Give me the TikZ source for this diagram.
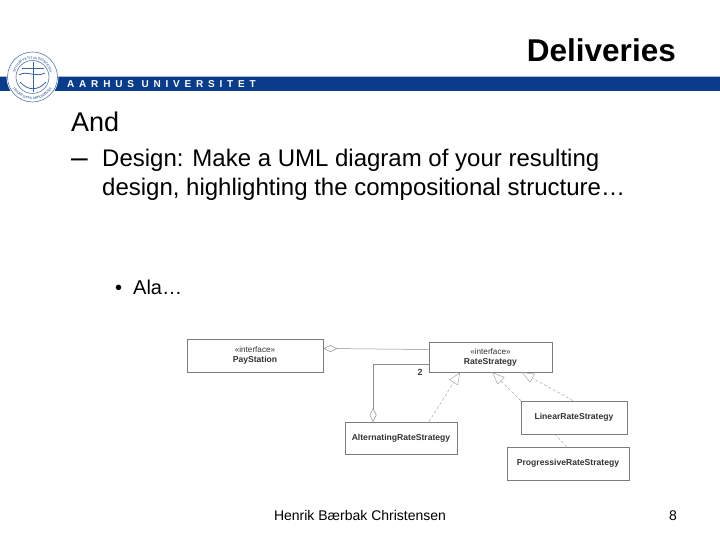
\documentclass[tikz,border=0pt]{standalone}
\usepackage{fontspec}
\setmainfont{Liberation Sans}
\definecolor{aublue}{RGB}{10,60,140}
\definecolor{uiline}{RGB}{125,125,125}
\usetikzlibrary{arrows.meta}
\usetikzlibrary{decorations.text}

\tikzset{
	umlbox/.style={draw=uiline,fill=white,line width=.8pt,inner sep=0pt,align=center,font=\fontsize{8.6}{10}\selectfont,text=black!80},
	aggr/.style={draw=black!45,line width=.5pt,{Diamond[open,fill=white,length=14pt,width=7pt]}-},
	realize/.style={draw=black!40,line width=.4pt,dash pattern=on 3pt off 2pt,-{Triangle[open,fill=white,length=12pt,width=10pt]}},
	sealtext/.style={decorate,decoration={text along path,text align=center,text={|\fontsize{3.4}{4}\selectfont\color{aublue}|#1}}},
}

\begin{document}
\begin{tikzpicture}[x=1pt,y=1pt]
	\useasboundingbox (0,0) rectangle (720,540);

	% header
	\node[anchor=east,inner sep=0pt,font=\fontsize{31.5}{34}\selectfont\bfseries] (title) at (676,490) {Deliveries};
	\fill[aublue!35] (0,464) rectangle (720,463);
	\fill[aublue] (0,463) rectangle (720,449);
	\node[anchor=west,inner sep=0pt,text=white,font=\fontsize{10}{12}\selectfont\bfseries\addfontfeature{LetterSpace=48}] (au) at (67,456) {AARHUS UNIVERSITET};

	% seal
	\fill[white] (32.5,463) circle (26);
	\draw[aublue!70,line width=.6pt] (32.5,463) circle (25) (32.5,463) circle (16.5);
	\path[sealtext={SOLIUM VETIT IN DIOECESIS}] ([shift={(190:18)}]32.5,463) arc (190:-10:18);
	\path[sealtext={UNIVERSITAS ARHUSIENSIS}] ([shift={(200:22.5)}]32.5,463) arc (200:340:22.5);
	\draw[aublue!80,line width=1pt] (33,478) -- (33,448) (22,471) -- (44,471);
	\draw[aublue!80,line width=.8pt] (20,458) .. controls (28,449) and (38,449) .. (46,458);
	\draw[aublue!80,line width=.8pt] (19,465) .. controls (27,470) and (36,462) .. (45,467);

	% text
	\node[anchor=base west,inner sep=0pt,font=\fontsize{27}{30}\selectfont] (and) at (71,408) {And};
	\node[anchor=base west,inner sep=0pt,font=\fontsize{30}{30}\selectfont] (dash) at (71,372) {–};
	\node[anchor=north west,align=left,inner sep=0pt,font=\fontsize{24}{29}\selectfont] (design) at (102,391) {Design: Make a UML diagram of your resulting\\design, highlighting the compositional structure…};
	\node[anchor=base west,font=\fontsize{20}{22}\selectfont,inner sep=0pt] (bullet) at (115,245) {•};
	\node[anchor=base west,font=\fontsize{20}{22}\selectfont,inner sep=0pt] (ala) at (133,245) {Ala…};

	% uml
	\node[umlbox,minimum width=136pt,minimum height=33pt] (pay) at (255,184.5) {\scalebox{.95}{«interface»}\\\textbf{PayStation}};
	\node[umlbox,minimum width=123pt,minimum height=30pt] (rate) at (490.5,183) {\scalebox{.95}{«interface»}\\\textbf{RateStrategy}};
	\node[umlbox,minimum width=112pt,minimum height=32pt] (alt) at (401,102) {\textbf{AlternatingRateStrategy}};
	\node[umlbox,minimum width=122pt,minimum height=33pt] (prog) at (568,76.5) {\textbf{ProgressiveRateStrategy}};

	\draw[realize] ([xshift=-1pt]prog.north) -- ([xshift=2pt]rate.south);
	\node[umlbox,minimum width=106pt,minimum height=33pt] (lin) at (574,122.5) {\textbf{LinearRateStrategy}};

	\draw[aggr] (pay.east |- 0,191.5) -- (rate.west |- 0,190.5);
	\draw[aggr] (373,118) |- (rate.west |- 0,176);
	\node[font=\fontsize{9}{10}\selectfont\bfseries,text=black!75] (two) at (420,168) {2};

	\draw[realize] ([xshift=28pt]alt.north) -- ([xshift=-30.5pt]rate.south);
	\draw[realize] ([xshift=-1pt]lin.north) -- ([xshift=31.5pt]rate.south);

	% footer
	\node[anchor=base,font=\fontsize{14}{17}\selectfont] (foot) at (360,19.5) {Henrik Bærbak Christensen};
	\node[anchor=base,font=\fontsize{14}{17}\selectfont] (page) at (673,19.5) {8};
\end{tikzpicture}
\end{document}
